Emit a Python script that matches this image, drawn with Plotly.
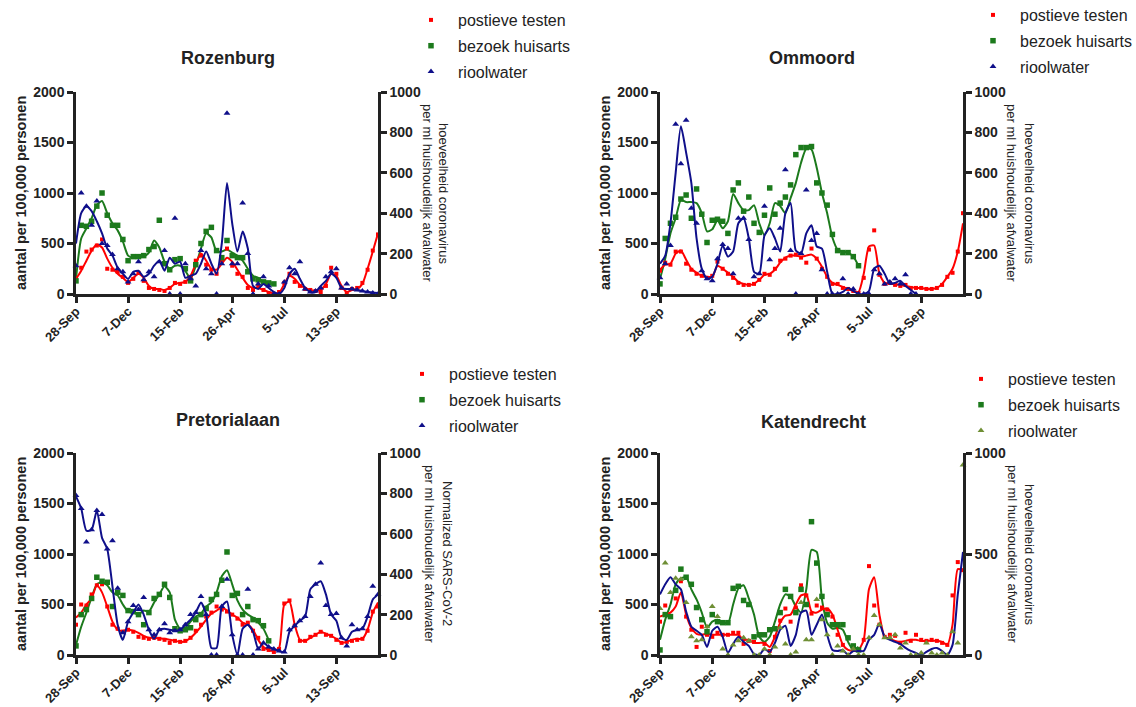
import pandas as pd
import plotly.graph_objects as go

# Weekly reporting dates (Mondays), 28-Sep-2020 .. 8-Nov-2021
weeks = pd.date_range("2020-09-28", periods=59, freq="7D")
tick_dates = ["2020-09-28", "2020-12-07", "2021-02-15", "2021-04-26", "2021-07-05", "2021-09-13"]
tick_labels = ["28-Sep", "7-Dec", "15-Feb", "26-Apr", "5-Jul", "13-Sep"]
series_names = ["postieve testen", "bezoek huisarts", "rioolwater"]

# ---- Rozenburg (left axis: per 100,000; right axis: riool) ----
rz_pos_dots = [150,260,420,440,480,540,250,240,220,170,110,150,210,130,60,50,40,30,60,110,100,120,170,330,380,290,240,200,330,450,280,200,170,60,40,80,40,10,0,20,110,200,120,80,50,40,30,20,80,260,200,60,10,50,60,110,240,430,590]
rz_pos_line = [150,230,330,430,490,460,350,260,200,160,120,160,200,160,80,50,50,40,60,100,110,120,180,300,400,330,250,240,300,360,320,240,160,90,60,60,40,20,5,10,100,180,150,90,60,40,30,40,100,200,180,80,20,40,50,100,250,420,600]
rz_huis_dots = [130,680,670,720,870,1000,780,680,680,540,330,370,370,380,440,470,730,300,240,340,350,250,130,290,500,620,660,430,360,530,380,360,360,220,150,140,120,110,100]
rz_huis_line = [150,550,650,750,880,920,800,700,630,520,380,360,370,370,410,530,460,320,250,280,280,230,150,280,450,600,560,420,420,440,410,380,330,250,180,160,120,110,100]
rz_riool_dots = [140,500,435,340,460,250,240,195,125,110,60,100,160,70,110,85,160,215,0,375,0,150,75,40,215,125,100,0,150,895,150,150,450,200,0,50,85,40,0,0,60,130,100,160,25,10,15,30,85,110,125,30,50,25,20,15,10,5,0]
rz_riool_line = [250,400,435,410,360,300,225,190,130,100,75,110,115,85,100,140,165,115,180,150,160,80,90,100,150,210,150,100,250,550,350,210,310,225,40,25,50,30,10,0,30,100,125,75,30,10,10,40,65,100,80,30,25,25,20,15,10,8,5]

# ---- Ommoord ----
om_pos_dots = [230,310,290,420,420,300,240,200,180,160,180,320,250,200,160,110,90,90,100,140,200,190,250,330,350,380,390,360,310,450,350,250,170,100,100,60,50,30,10,160,440,630,190,100,110,90,80,90,60,60,60,50,50,60,90,170,210,420,800]
om_pos_line = [240,290,300,400,430,340,250,210,180,170,170,280,250,210,170,120,100,90,100,140,190,200,240,310,360,380,380,370,380,390,350,270,170,110,90,70,50,30,20,200,470,480,200,110,100,100,90,80,70,60,60,50,50,60,100,170,250,420,700]
om_huis_dots = [100,550,700,760,940,980,750,1040,790,510,730,740,720,600,1030,1100,820,960,700,610,780,1050,790,900,960,1080,1380,1450,1450,1460,1100,1000,880,590,430,410,410,370,280]
om_huis_line = [150,350,600,750,930,910,910,900,800,620,640,730,650,720,990,900,830,830,880,700,580,700,900,870,800,950,1100,1300,1440,1430,1250,1000,800,560,440,420,410,370,280]
om_riool_dots = [80,150,240,840,645,860,425,350,115,75,65,175,245,225,100,375,375,270,85,100,435,170,225,325,615,215,0,200,515,265,300,120,0,0,0,75,0,25,0,0,0,120,100,50,60,75,50,95,0,0]
om_riool_line = [150,190,350,600,830,700,550,275,125,75,85,150,240,185,210,350,375,275,110,100,290,325,275,210,400,450,215,200,300,340,235,225,110,0,0,10,30,15,0,0,15,125,140,100,50,55,65,40,20,0]

# ---- Pretorialaan ----
pr_pos_dots = [300,500,490,600,690,700,480,300,260,230,250,230,180,170,160,170,160,150,120,140,130,140,170,240,300,380,420,480,450,430,400,360,300,320,240,170,60,50,30,60,510,540,290,140,140,180,200,230,200,190,150,120,130,140,150,160,240,430,480]
pr_pos_line = [370,420,500,560,690,620,480,330,250,240,250,240,220,190,170,170,165,160,150,140,130,135,170,220,280,350,410,440,470,440,400,370,320,300,250,150,80,50,40,70,500,530,300,150,140,170,200,230,210,190,160,120,130,150,160,160,250,420,520]
pr_huis_dots = [90,400,450,560,770,730,720,480,620,590,440,430,400,300,420,560,600,700,570,260,240,250,270,350,400,460,550,600,740,1020,590,610,400,480,350,340,290,140]
pr_huis_line = [100,280,420,570,700,720,690,620,590,500,430,420,400,440,430,520,600,680,620,350,260,270,330,380,410,480,520,620,780,840,700,540,450,400,370,320,260,150]
pr_riool_dots = [790,725,560,620,715,695,525,565,330,110,165,245,225,285,125,100,125,155,110,120,125,150,200,210,290,200,0,0,240,375,100,0,0,325,0,30,60,40,30,20,15,125,145,170,190,290,350,455,245,200,205,85,45,150,125,130,190,340,300]
pr_riool_line = [785,725,615,620,715,580,525,340,150,75,165,210,250,200,125,80,125,130,125,120,125,150,175,210,260,200,35,35,240,265,100,0,130,150,115,30,60,40,30,20,15,115,145,170,190,325,350,365,300,200,170,85,75,115,125,130,190,275,300]

# ---- Katendrecht ----
kd_pos_dots = [330,490,380,560,730,380,250,80,280,200,180,220,200,200,220,220,110,140,130,200,110,40,180,340,460,330,470,690,590,410,490,470,450,380,200,100,0,70,50,150,880,490,300,180,200,190,120,220,140,200,150,140,150,140,120,100,590,920,840]
kd_pos_line = [380,400,420,480,620,400,270,210,200,210,200,200,200,200,200,200,150,150,120,120,120,80,180,320,390,400,500,590,600,430,420,450,460,400,250,100,50,40,50,150,650,770,400,180,160,140,130,140,150,150,140,140,140,140,130,100,300,850,840]
kd_huis_dots = [50,400,380,640,850,770,700,470,350,230,400,330,320,320,660,680,540,500,180,200,200,250,260,420,650,580,420,650,500,1320,910,580,400,300,300,300,170,90,50]
kd_huis_line = [150,350,500,700,760,770,650,550,420,270,330,350,330,310,500,660,690,560,400,180,130,180,330,500,600,580,480,420,650,1040,1020,550,320,260,270,250,130,50,80]
kd_riool_dots = [230,455,310,380,375,260,90,70,75,140,240,190,30,0,50,70,85,70,0,0,30,0,40,135,55,0,15,260,75,75,275,175,100,0,45,20,0,30,0,0,85,195,150,85,85,100,35,60,0,0,10,60,10,0,10,0,115,60,940]
kd_riool_line = [300,350,385,350,325,215,140,120,100,40,120,140,90,10,55,90,65,45,5,0,30,15,60,125,145,45,100,210,220,100,150,200,100,25,20,25,0,20,20,20,75,100,155,90,75,65,55,35,20,10,0,15,30,35,20,0,50,300,510]

RED = "#ff0000"
GREEN = "#1c7a1c"
BLUE = "#0f0f8a"
OLIVE = "#6f8f35"
INK = "#222222"
FONT = "Liberation Sans"

W, H = 1136, 707


def px_x(v):
    return v / W


def px_y(v):
    return 1 - v / H


def pad(vals):
    return list(vals) + [None] * (len(weeks) - len(vals))


panels = [
    dict(title="Rozenburg", data=(rz_pos_dots, rz_pos_line, rz_huis_dots, rz_huis_line, rz_riool_dots, rz_riool_line),
         xdom=(76, 378), ydom=(92, 294), rticks=[0, 200, 400, 600, 800, 1000],
         rtitle=("hoeveelheid coronavirus", "per ml huishoudelijk afvalwater"), rtx=(444, 428),
         leg=(404, 3), riool_dot=BLUE, title_xy=(228, 58)),
    dict(title="Ommoord", data=(om_pos_dots, om_pos_line, om_huis_dots, om_huis_line, om_riool_dots, om_riool_line),
         xdom=(660, 963), ydom=(92, 294), rticks=[0, 200, 400, 600, 800, 1000],
         rtitle=("hoeveelheid coronavirus", "per ml huishoudelijk afvalwater"), rtx=(1030, 1012),
         leg=(966, -2), riool_dot=BLUE, title_xy=(812, 58)),
    dict(title="Pretorialaan", data=(pr_pos_dots, pr_pos_line, pr_huis_dots, pr_huis_line, pr_riool_dots, pr_riool_line),
         xdom=(76, 378), ydom=(453, 655), rticks=[0, 200, 400, 600, 800, 1000],
         rtitle=("Normalized SARS-CoV-2", "per ml huishoudelijk afvalwater"), rtx=(448, 430),
         leg=(395, 357), riool_dot=BLUE, title_xy=(228, 420)),
    dict(title="Katendrecht", data=(kd_pos_dots, kd_pos_line, kd_huis_dots, kd_huis_line, kd_riool_dots, kd_riool_line),
         xdom=(660, 963), ydom=(453, 655), rticks=[0, 500, 1000],
         rtitle=("hoeveelheid coronavirus", "per ml huishoudelijk afvalwater"), rtx=(1030, 1013),
         leg=(954, 362), riool_dot=OLIVE, title_xy=(813, 422)),
]

fig = go.Figure()
layout = dict(
    width=W, height=H, autosize=False,
    margin=dict(l=0, r=0, t=0, b=0, autoexpand=False),
    paper_bgcolor="white", plot_bgcolor="white",
    font=dict(family=FONT, color=INK),
    showlegend=True,
)
annotations = []

axis_common = dict(showline=True, linewidth=2.5, linecolor=INK, ticks="outside", automargin=False,
                   ticklen=6, tickwidth=2.5, tickcolor=INK, showgrid=False, zeroline=False,
                   tickfont=dict(family=FONT, size=14, color=INK, weight="bold"))

for k, p in enumerate(panels, start=1):
    xname = "x" if k == 1 else f"x{k}"
    yl = 2 * k - 1
    yr = 2 * k
    ylname = "y" if yl == 1 else f"y{yl}"
    yrname = f"y{yr}"
    legname = "legend" if k == 1 else f"legend{k}"
    pos_d, pos_l, huis_d, huis_l, riool_d, riool_l = p["data"]

    # smoothed trend lines
    fig.add_trace(go.Scatter(x=weeks, y=pad(huis_l), mode="lines", line=dict(color=GREEN, width=2, shape="spline", smoothing=0.6),
                             xaxis=xname, yaxis=ylname, showlegend=False, hoverinfo="skip", connectgaps=False))
    fig.add_trace(go.Scatter(x=weeks, y=pad(pos_l), mode="lines", line=dict(color=RED, width=2, shape="spline", smoothing=0.6),
                             xaxis=xname, yaxis=ylname, showlegend=False, hoverinfo="skip"))
    fig.add_trace(go.Scatter(x=weeks, y=pad(riool_l), mode="lines", line=dict(color=BLUE, width=2, shape="spline", smoothing=0.6),
                             xaxis=xname, yaxis=yrname, showlegend=False, hoverinfo="skip"))

    # weekly measurements
    fig.add_trace(go.Scatter(x=weeks, y=pad(pos_d), mode="markers", name=series_names[0],
                             marker=dict(color=RED, size=4, symbol="square"), cliponaxis=False,
                             xaxis=xname, yaxis=ylname, legend=legname, legendgroup=f"a{k}"))
    fig.add_trace(go.Scatter(x=weeks, y=pad(huis_d), mode="markers", name=series_names[1],
                             marker=dict(color=GREEN, size=5.5, symbol="square"), cliponaxis=False,
                             xaxis=xname, yaxis=ylname, legend=legname, legendgroup=f"b{k}"))
    fig.add_trace(go.Scatter(x=weeks, y=pad(riool_d), mode="markers", name=series_names[2],
                             marker=dict(color=p["riool_dot"], size=6, symbol="triangle-up"), cliponaxis=False,
                             xaxis=xname, yaxis=yrname, legend=legname, legendgroup=f"c{k}"))

    x0, x1 = p["xdom"]
    ytop, ybot = p["ydom"]
    layout["xaxis" if k == 1 else f"xaxis{k}"] = dict(
        axis_common, domain=[px_x(x0), px_x(x1)], anchor=ylname, type="date",
        range=[weeks[0], weeks[-1]], tickmode="array", tickvals=tick_dates, ticktext=tick_labels,
        tickangle=-45, ticklabelstandoff=-4, tickfont=dict(family=FONT, size=13, color=INK, weight="bold"))
    layout["yaxis" if yl == 1 else f"yaxis{yl}"] = dict(
        axis_common, domain=[px_y(ybot), px_y(ytop)], anchor=xname, range=[0, 2000],
        tickmode="array", tickvals=[0, 500, 1000, 1500, 2000])
    layout[f"yaxis{yr}"] = dict(
        axis_common, domain=[px_y(ybot), px_y(ytop)], anchor=xname, overlaying=ylname, side="right",
        range=[0, 1000], tickmode="array", tickvals=p["rticks"])

    lx, ly = p["leg"]
    layout[legname] = dict(x=px_x(lx), y=px_y(ly), xanchor="left", yanchor="top", xref="paper", yref="paper",
                           bgcolor="rgba(0,0,0,0)", borderwidth=0, traceorder="grouped", tracegroupgap=2,
                           itemwidth=44, font=dict(family=FONT, size=16, color=INK), itemsizing="trace")

    tx, ty = p["title_xy"]
    annotations.append(dict(x=px_x(tx), y=px_y(ty), xref="paper", yref="paper", text=p["title"], showarrow=False,
                            font=dict(family=FONT, size=18, color=INK, weight="bold"), xanchor="center", yanchor="middle"))
    ymid = px_y((ytop + ybot) / 2)
    annotations.append(dict(x=px_x(x0 - 55), y=ymid, xref="paper", yref="paper", text="aantal per 100,000 personen",
                            textangle=-90, showarrow=False, xanchor="center", yanchor="middle",
                            font=dict(family=FONT, size=14.5, color=INK, weight="bold")))
    for line_text, lx_px in zip(p["rtitle"], p["rtx"]):
        annotations.append(dict(x=px_x(lx_px), y=ymid, xref="paper", yref="paper", text=line_text,
                                textangle=90, showarrow=False, xanchor="center", yanchor="middle",
                                font=dict(family=FONT, size=13, color=INK)))

layout["annotations"] = annotations
fig.update_layout(**layout)
fig.write_html("out.html")
